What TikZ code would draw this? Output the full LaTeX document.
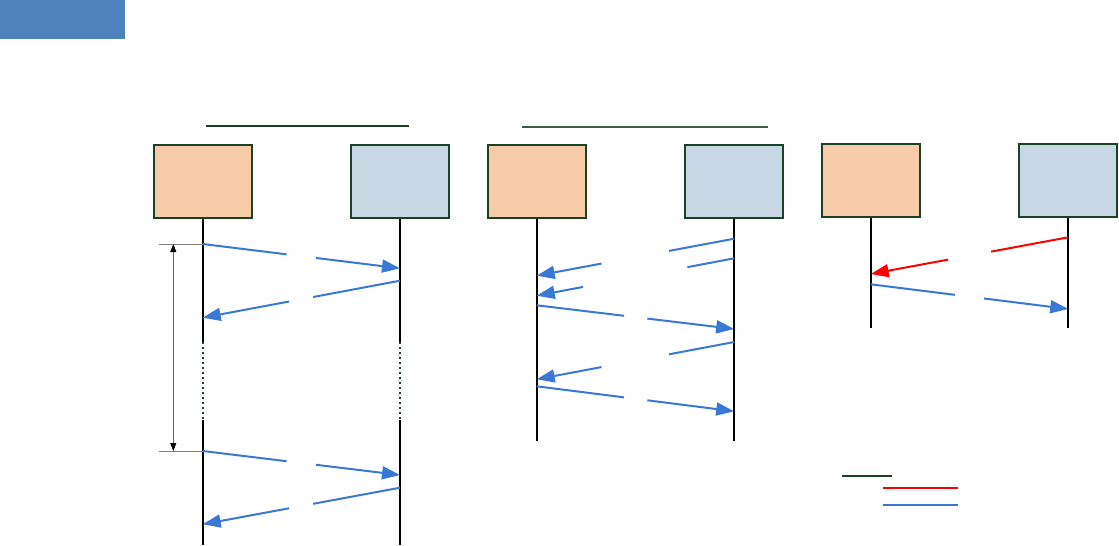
\documentclass[tikz,border=0pt]{standalone}
\usetikzlibrary{arrows.meta,calc}
\definecolor{hdrblue}{RGB}{79,129,189}
\definecolor{peach}{RGB}{248,203,168}
\definecolor{steel}{RGB}{201,214,228}
\definecolor{frame}{RGB}{26,66,38}
\definecolor{msgblue}{RGB}{58,120,214}
\tikzset{
  box/.style={draw=frame,line width=2pt,minimum width=98pt,minimum height=73pt,inner sep=0pt},
  life/.style={line width=2pt,color=black},
  gapline/.style={line width=2.4pt,color=frame,dash pattern=on 2.5pt off 2.5pt},
  msg/.style={line width=2pt,color=msgblue},
  tip/.style={-{Triangle[length=18pt,width=13pt]}},
}
% message with a gap in the middle: [colour]{from}{to}{end of first part}{start of second part}
\newcommand\sendmsg[5][msgblue]{%
  \draw[msg,color=#1] (#2) -- ($(#2)!#4!(#3)$);
  \draw[msg,color=#1,tip] ($(#2)!#5!(#3)$) -- (#3);}
\begin{document}
\begin{tikzpicture}[x=1pt,y=-1pt]
  \useasboundingbox (0,0) rectangle (1119,546);
  \node[fill=hdrblue,minimum width=125pt,minimum height=39pt,inner sep=0pt,anchor=north west] (hdr) at (0,0) {};
  % group headings
  \draw[frame,line width=2pt] (205.7,125.7) -- (409.3,125.7);
  \draw[frame!85!white,line width=1.6pt] (522.3,126.7) -- (768.3,126.7);
  % boxes
  \node[box,fill=peach] (c1) at (202.7,181.7) {};
  \node[box,fill=steel] (d1) at (400,181.7) {};
  \node[box,fill=peach] (c2) at (536.7,181.5) {};
  \node[box,fill=steel] (d2) at (734.2,181.5) {};
  \node[box,fill=peach] (c3) at (870.7,180.7) {};
  \node[box,fill=steel] (d3) at (1068.2,180.7) {};
  % lifelines
  \draw[life] (c1.south) -- (c1 |- 0,341.7);
  \draw[gapline] (c1 |- 0,341.7) -- (c1 |- 0,420);
  \draw[life] (c1 |- 0,420) -- (c1 |- 0,545);
  \draw[life] (d1.south) -- (d1 |- 0,341.7);
  \draw[gapline] (d1 |- 0,341.7) -- (d1 |- 0,420);
  \draw[life] (d1 |- 0,420) -- (d1 |- 0,545);
  \draw[life] (c2.south) -- (c2 |- 0,440.7);
  \draw[life] (d2.south) -- (d2 |- 0,440.7);
  \draw[life] (c3.south) -- (c3 |- 0,328);
  \draw[life] (d3.south) -- (d3 |- 0,328);
  % first group
  \coordinate (a1) at (c1 |- 0,244);
  \coordinate (b1) at (d1 |- 0,268.3);
  \coordinate (a2) at (d1 |- 0,280.7);
  \coordinate (b2) at (c1 |- 0,317.7);
  \coordinate (a3) at (c1 |- 0,451);
  \coordinate (b3) at (d1 |- 0,475);
  \coordinate (a4) at (d1 |- 0,487.7);
  \coordinate (b4) at (c1 |- 0,524.3);
  \sendmsg{a1}{b1}{.425}{.574}
  \sendmsg{a2}{b2}{.44}{.562}
  \sendmsg{a3}{b3}{.425}{.574}
  \sendmsg{a4}{b4}{.44}{.562}
  \draw[gray,line width=0.8pt] (159.3,244) -- (a1);
  \draw[gray,line width=0.8pt] (159.3,451) -- (a3);
  \draw[gray!80!black,line width=0.8pt,{Triangle[length=8pt,width=6pt,black]}-{Triangle[length=8pt,width=6pt,black]}] (173.3,244) -- (173.3,451);
  % second group
  \coordinate (p1) at (d2 |- 0,238.7);
  \coordinate (q1) at (c2 |- 0,275.7);
  \coordinate (p2) at (d2 |- 0,258.3);
  \coordinate (q2) at (c2 |- 0,295.7);
  \coordinate (p3) at (c2 |- 0,305.3);
  \coordinate (q3) at (d2 |- 0,329);
  \coordinate (p4) at (d2 |- 0,342);
  \coordinate (q4) at (c2 |- 0,379.3);
  \coordinate (p5) at (c2 |- 0,386.3);
  \coordinate (q5) at (d2 |- 0,411.3);
  \sendmsg{p1}{q1}{.33}{.672}
  \sendmsg{p2}{q2}{.237}{.765}
  \sendmsg{p3}{q3}{.442}{.56}
  \sendmsg{p4}{q4}{.33}{.672}
  \sendmsg{p5}{q5}{.442}{.56}
  % third group
  \coordinate (u1) at (d3 |- 0,237.3);
  \coordinate (v1) at (c3 |- 0,274);
  \coordinate (u2) at (c3 |- 0,284.3);
  \coordinate (v2) at (d3 |- 0,309);
  \sendmsg[red]{u1}{v1}{.39}{.608}
  \sendmsg{u2}{v2}{.426}{.574}
  % legend
  \draw[frame,line width=1.5pt] (841.7,476) -- (891.7,476);
  \draw[red,line width=2pt] (882.7,488) -- (957.7,488);
  \draw[msgblue,line width=2pt] (882.7,505) -- (957.7,505);
\end{tikzpicture}
\end{document}
